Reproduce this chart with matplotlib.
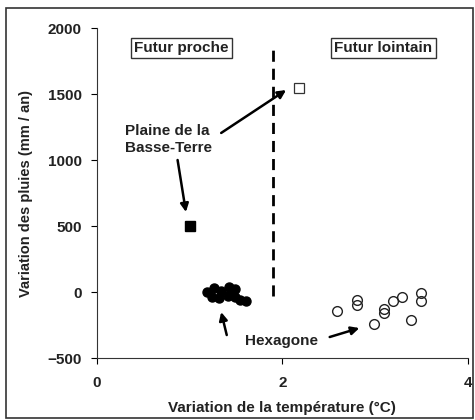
import matplotlib.pyplot as plt
from matplotlib.patches import Rectangle

# Plaine de la Basse-Terre
bt_near_x = [1.0]
bt_near_y = [500]
bt_far_x = [2.18]
bt_far_y = [1545]

# Hexagone, futur proche (filled) and futur lointain (open)
hex_near_x = [1.19, 1.26, 1.34, 1.42, 1.49, 1.24, 1.32, 1.41, 1.49, 1.54, 1.61, 1.45]
hex_near_y = [0, 30, 8, 38, 23, -38, -45, -30, -38, -60, -68, 0]
hex_far_x = [2.59, 2.80, 2.80, 2.99, 3.10, 3.10, 3.19, 3.29, 3.49, 3.49, 3.39]
hex_far_y = [-144, -61, -98, -242, -129, -159, -68, -38, -8, -68, -212]

xticks = [0, 2, 4]
yticks = [-500, 0, 500, 1000, 1500, 2000]

plt.rcParams['font.family'] = ['Liberation Sans', 'DejaVu Sans']
plt.rcParams['font.weight'] = 'bold'
plt.rcParams['axes.labelweight'] = 'bold'
txt = '#222222'

fig = plt.figure(figsize=(4.75, 4.2), dpi=100)
ax = fig.add_axes([0.204, 0.1476, 0.781, 0.7857])

# outer frame around the whole chart
fig.patches.append(Rectangle((0.013, 0.005), 0.982, 0.975, transform=fig.transFigure,
                             fill=False, edgecolor='#333333', linewidth=1.2))

ax.plot(bt_near_x, bt_near_y, 's', color='black', ms=7)
ax.plot(bt_far_x, bt_far_y, 's', mfc='white', mec='#333333', ms=7.5, mew=0.9)
ax.plot(hex_near_x, hex_near_y, 'o', color='black', ms=6.5)
ax.plot(hex_far_x, hex_far_y, 'o', mfc='none', mec='#222222', ms=7, mew=1.0)

# separation between near and far future
ax.plot([1.9, 1.9], [-30, 1870], color='black', lw=2, dashes=(4, 2.5))

box = dict(boxstyle='square,pad=0.2', fc='white', ec='#333333', lw=1)
ax.text(0.91, 1848, 'Futur proche', ha='center', va='center', fontsize=11, color=txt, bbox=box)
ax.text(3.09, 1848, 'Futur lointain', ha='center', va='center', fontsize=11, color=txt, bbox=box)

ax.text(0.30, 1155, 'Plaine de la\nBasse-Terre', ha='left', va='center',
        fontsize=11, linespacing=1.25, color=txt)
ax.text(1.99, -371, 'Hexagone', ha='center', va='center', fontsize=11, color=txt)

arrow = dict(arrowstyle='-|>', color='black', lw=1.8, mutation_scale=12, shrinkA=0, shrinkB=0)
ax.annotate('', xy=(2.04, 1530), xytext=(1.34, 1205), arrowprops=arrow)
ax.annotate('', xy=(0.96, 606), xytext=(0.87, 1000), arrowprops=arrow)
ax.annotate('', xy=(1.34, -152), xytext=(1.40, -326), arrowprops=arrow)
ax.annotate('', xy=(2.83, -273), xytext=(2.51, -341), arrowprops=arrow)

ax.set_xlim(0, 4)
ax.set_ylim(-500, 2000)
ax.set_xticks(xticks)
ax.set_yticks(yticks)
ax.tick_params(direction='out', length=4, labelsize=11, labelcolor=txt)
ax.tick_params(axis='x', pad=9)
ax.tick_params(axis='y', pad=7)
ax.spines['top'].set_visible(False)
ax.spines['right'].set_visible(False)
for s in ['left', 'bottom']:
    ax.spines[s].set_color('#333333')

ax.set_xlabel('Variation de la température (°C)', fontsize=11, color=txt, labelpad=8)
ax.set_ylabel('Variation des pluies (mm / an)', fontsize=10.5, color=txt, labelpad=10)

fig.savefig('out.png', dpi=100)
